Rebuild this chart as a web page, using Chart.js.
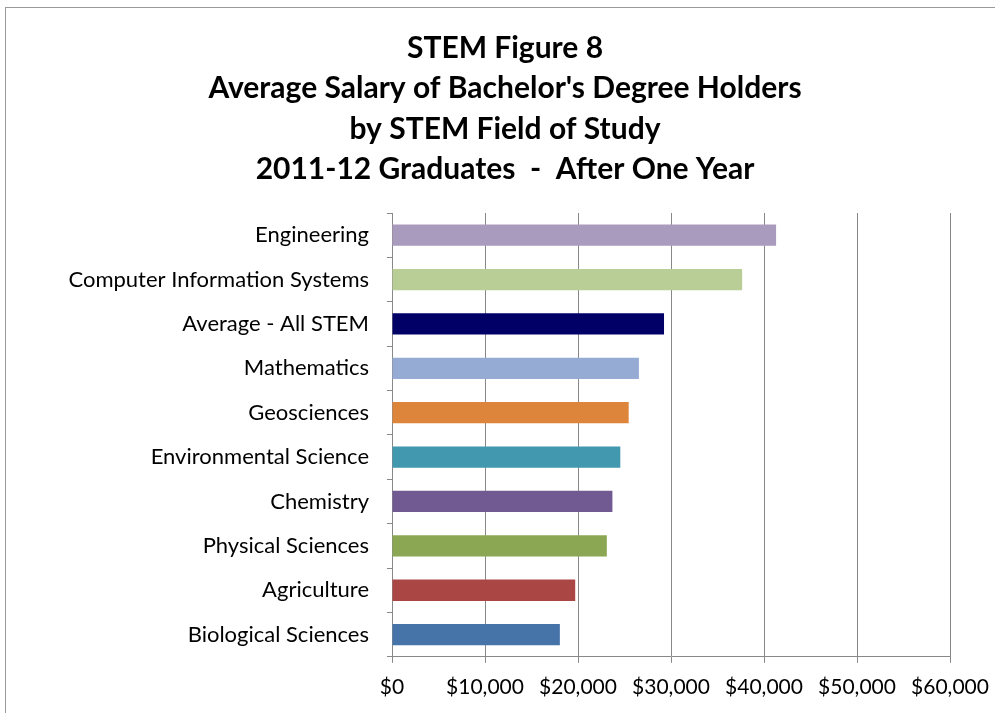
<!DOCTYPE html>
<html>
<head>
<meta charset="utf-8">
<script src="https://cdn.jsdelivr.net/npm/chart.js@4"></script>
<style>
  html, body { margin: 0; padding: 0; background: #fff; }
  #frame { position: absolute; left: 5px; top: 7px; width: 1000px; height: 720px; border: 1px solid #999; }
  #wrap { position: absolute; left: 0; top: 0; width: 995px; height: 713px; }
</style>
</head>
<body>
<div id="frame"></div>
<div id="wrap"><canvas id="barChart"></canvas></div>
<script>
// Categories, top to bottom
const fields = [
    'Engineering',
    'Computer Information Systems',
    'Average - All STEM',
    'Mathematics',
    'Geosciences',
    'Environmental Science',
    'Chemistry',
    'Physical Sciences',
    'Agriculture',
    'Biological Sciences'
];

// Average salary after one year
const salaries = [41300, 37650, 29250, 26550, 25450, 24550, 23700, 23100, 19700, 18050];

const barColors = [
    '#a99bbd', '#b9ce96', '#000066', '#95abd4', '#dd853a',
    '#4198af', '#715a92', '#8ba753', '#aa4744', '#4673a8'
];

const titleLines = [
    'STEM Figure 8',
    "Average Salary of Bachelor's Degree Holders",
    'by STEM Field of Study',
    '2011-12 Graduates  -  After One Year'
];

const xTicks = [0, 10000, 20000, 30000, 40000, 50000, 60000];

const labelFont = "Lato, 'Noto Sans', sans-serif";

const ctx = document.getElementById('barChart').getContext('2d');

const config = {
    type: 'bar',
    data: {
        labels: fields,
        datasets: [{
            data: salaries,
            backgroundColor: barColors,
            borderWidth: 0,
            categoryPercentage: 1.0,
            barPercentage: 0.48
        }]
    },
    options: {
        indexAxis: 'y',
        responsive: true,
        maintainAspectRatio: false,
        animation: false,
        layout: {
            padding: { left: 60, right: 45, top: 10, bottom: 1 }
        },
        plugins: {
            legend: { display: false },
            tooltip: { enabled: false },
            title: {
                display: true,
                text: titleLines,
                color: '#000',
                font: { family: labelFont, size: 30, weight: 'bold', lineHeight: 1.35 },
                padding: { top: 18, bottom: 23 }
            }
        },
        scales: {
            x: {
                min: 0,
                max: 60000,
                afterBuildTicks: (scale) => {
                    scale.ticks = xTicks.map(v => ({ value: v }));
                },
                // keep the last label from pulling the plot in
                afterFit: (scale) => { scale.paddingRight = 0; },
                ticks: {
                    color: '#000',
                    font: { family: labelFont, size: 21 },
                    padding: 12,
                    maxRotation: 0,
                    callback: (v) => '$' + Number(v).toLocaleString('en-US')
                },
                grid: {
                    color: '#888',
                    lineWidth: 1,
                    tickLength: 6
                },
                border: { color: '#888' }
            },
            y: {
                afterFit: (scale) => { scale.width = 332; },
                ticks: {
                    color: '#000',
                    font: { family: labelFont, size: 22 },
                    padding: 18
                },
                grid: {
                    drawOnChartArea: false,
                    color: '#888',
                    tickLength: 5,
                    offset: true
                },
                border: { color: '#888' }
            }
        }
    }
};

const barChart = new Chart(ctx, config);
</script>
</body>
</html>
